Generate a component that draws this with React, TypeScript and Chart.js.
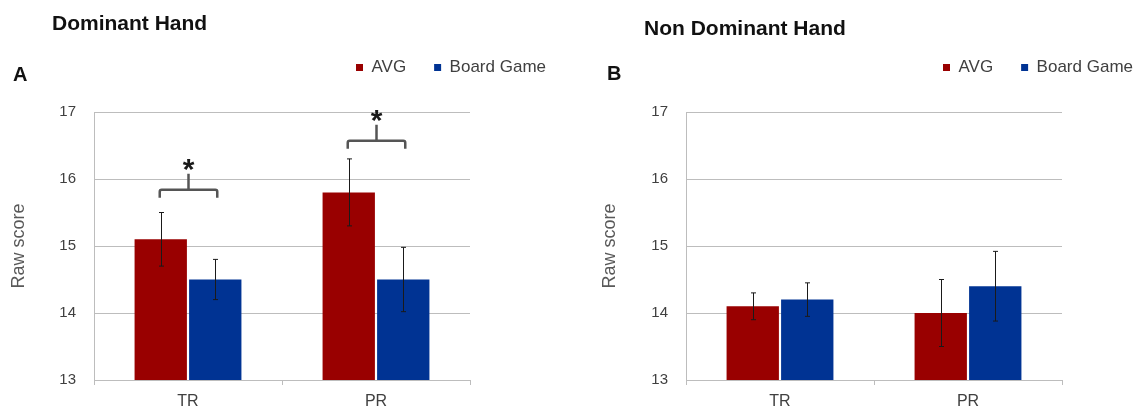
import React, { useEffect, useRef } from 'react';
import { Chart, registerables } from 'chart.js';

Chart.register(...registerables);

const FONT = '"Liberation Sans", Arial, Helvetica, sans-serif';

const categories = ['TR', 'PR'];
const seriesLabels = ['AVG', 'Board Game'];
const seriesColors = ['#990000', '#003393'];
const yTickValues = [13, 14, 15, 16, 17];

const dominantAvg = [15.1, 15.8];
const dominantAvgErr = [0.4, 0.5];
const dominantBoard = [14.5, 14.5];
const dominantBoardErr = [0.3, 0.48];
const dominantSigLevel: (number | null)[] = [15.84, 16.57];

const nonDominantAvg = [14.1, 14.0];
const nonDominantAvgErr = [0.2, 0.5];
const nonDominantBoard = [14.2, 14.4];
const nonDominantBoardErr = [0.25, 0.52];
const nonDominantSigLevel: (number | null)[] = [null, null];

type PanelProps = {
  avg: number[];
  avgErr: number[];
  board: number[];
  boardErr: number[];
  sig: (number | null)[];
  left: number;
  width: number;
  yWidth: number;
  rightPad: number;
};

function Panel({ avg, avgErr, board, boardErr, sig, left, width, yWidth, rightPad }: PanelProps) {
  const ref = useRef<HTMLCanvasElement | null>(null);

  useEffect(() => {
    const canvas = ref.current;
    if (!canvas) return;
    const errs = [avgErr, boardErr];

    const errorBarPlugin = {
      id: 'errorBars',
      afterDatasetsDraw(chart: any) {
        const ctx = chart.ctx;
        const ys = chart.scales.y;
        ctx.save();
        ctx.strokeStyle = '#1a1a1a';
        ctx.lineWidth = 1;
        chart.data.datasets.forEach((ds: any, i: number) => {
          const meta = chart.getDatasetMeta(i);
          meta.data.forEach((bar: any, j: number) => {
            const v = ds.data[j];
            const e = errs[i][j];
            const x = Math.round(bar.x) + 0.5;
            const yt = ys.getPixelForValue(v + e);
            const yb = ys.getPixelForValue(v - e);
            ctx.beginPath();
            ctx.moveTo(x, yt);
            ctx.lineTo(x, yb);
            ctx.moveTo(x - 2.5, yt);
            ctx.lineTo(x + 2.5, yt);
            ctx.moveTo(x - 2.5, yb);
            ctx.lineTo(x + 2.5, yb);
            ctx.stroke();
          });
        });
        ctx.restore();
      },
    };

    const sigPlugin = {
      id: 'significance',
      afterDatasetsDraw(chart: any) {
        const ctx = chart.ctx;
        const ys = chart.scales.y;
        const m0 = chart.getDatasetMeta(0);
        const m1 = chart.getDatasetMeta(1);
        sig.forEach((lvl, j) => {
          if (lvl == null) return;
          const x1 = m0.data[j].x - 1;
          const x2 = m1.data[j].x + 2;
          const yb = ys.getPixelForValue(lvl);
          const xm = (x1 + x2) / 2;
          ctx.save();
          ctx.strokeStyle = '#555555';
          ctx.lineWidth = 2.5;
          ctx.beginPath();
          ctx.moveTo(x1, yb + 8);
          ctx.lineTo(x1, yb + 2);
          ctx.quadraticCurveTo(x1, yb, x1 + 2, yb);
          ctx.lineTo(x2 - 2, yb);
          ctx.quadraticCurveTo(x2, yb, x2, yb + 2);
          ctx.lineTo(x2, yb + 8);
          ctx.moveTo(xm, yb);
          ctx.lineTo(xm, yb - 16);
          ctx.stroke();
          ctx.fillStyle = '#1a1a1a';
          ctx.font = `bold 30px ${FONT}`;
          ctx.textAlign = 'center';
          ctx.textBaseline = 'alphabetic';
          ctx.fillText('*', xm, yb - 28 + 0.58 * 30);
          ctx.restore();
        });
      },
    };

    const chart = new Chart(canvas, {
      type: 'bar',
      data: {
        labels: categories,
        datasets: [
          {
            label: seriesLabels[0],
            data: avg,
            backgroundColor: seriesColors[0],
            borderWidth: 0,
            categoryPercentage: 0.58,
            barPercentage: 0.96,
          },
          {
            label: seriesLabels[1],
            data: board,
            backgroundColor: seriesColors[1],
            borderWidth: 0,
            categoryPercentage: 0.58,
            barPercentage: 0.96,
          },
        ],
      },
      options: {
        responsive: false,
        animation: false,
        devicePixelRatio: 1,
        layout: { padding: { top: 31, left: 0, right: 0, bottom: 0 } },
        plugins: {
          legend: {
            position: 'top',
            align: 'end',
            labels: {
              boxWidth: 7,
              boxHeight: 7,
              padding: 28,
              color: '#404040',
              font: { family: FONT, size: 17 },
            },
          },
          tooltip: { enabled: false },
          title: { display: false },
        },
        scales: {
          x: {
            offset: true,
            grid: {
              display: true,
              drawOnChartArea: false,
              drawTicks: true,
              tickLength: 5,
              offset: true,
              color: '#bdbdbd',
            },
            border: { display: true, color: '#bdbdbd' },
            ticks: {
              color: '#404040',
              padding: 7,
              font: { family: FONT, size: 16 },
            },
            afterFit(s: any) {
              s.height = 29;
            },
          },
          padTop: {
            type: 'linear',
            axis: 'x',
            position: 'top',
            display: true,
            grid: { display: false, drawTicks: false },
            border: { display: false },
            ticks: { display: false },
            afterFit(s: any) {
              s.height = 26;
            },
          },
          y: {
            min: 13,
            max: 17,
            afterBuildTicks(s: any) {
              s.ticks = yTickValues.map((v) => ({ value: v }));
            },
            grid: { color: '#bdbdbd', drawTicks: false },
            border: { display: true, color: '#bdbdbd' },
            ticks: {
              color: '#404040',
              padding: 18,
              font: { family: FONT, size: 15 },
            },
            title: {
              display: true,
              text: 'Raw score',
              color: '#595959',
              padding: { top: 8, bottom: 0 },
              font: { family: FONT, size: 18 },
            },
            afterFit(s: any) {
              s.width = yWidth;
            },
          },
          pad: {
            type: 'linear',
            position: 'right',
            display: true,
            grid: { display: false, drawTicks: false },
            border: { display: false },
            ticks: { display: false },
            afterFit(s: any) {
              s.width = rightPad;
            },
          },
        },
      } as any,
      plugins: [errorBarPlugin, sigPlugin],
    });
    return () => chart.destroy();
  }, []);

  return (
    <canvas
      ref={ref}
      width={width}
      height={409}
      style={{ position: 'absolute', left, top: 0, width, height: 409, display: 'block' }}
    />
  );
}

const titleStyle: React.CSSProperties = {
  position: 'absolute',
  fontFamily: FONT,
  fontWeight: 'bold',
  fontSize: 21,
  lineHeight: '21px',
  color: '#111',
  whiteSpace: 'nowrap',
};

const letterStyle: React.CSSProperties = {
  position: 'absolute',
  fontFamily: FONT,
  fontWeight: 'bold',
  fontSize: 20,
  lineHeight: '20px',
  color: '#111',
};

export default function App() {
  return (
    <div
      style={{
        position: 'fixed',
        left: 0,
        top: 0,
        width: 1139,
        height: 409,
        overflow: 'hidden',
        background: '#ffffff',
      }}
    >
      <Panel
        avg={dominantAvg}
        avgErr={dominantAvgErr}
        board={dominantBoard}
        boardErr={dominantBoardErr}
        sig={dominantSigLevel}
        left={0}
        width={574}
        yWidth={94}
        rightPad={104}
      />
      <Panel
        avg={nonDominantAvg}
        avgErr={nonDominantAvgErr}
        board={nonDominantBoard}
        boardErr={nonDominantBoardErr}
        sig={nonDominantSigLevel}
        left={591}
        width={570}
        yWidth={95}
        rightPad={99}
      />
      <div style={{ ...titleStyle, left: 52, top: 12 }}>Dominant Hand</div>
      <div style={{ ...titleStyle, left: 644, top: 17 }}>Non Dominant Hand</div>
      <div style={{ ...letterStyle, left: 13, top: 64 }}>A</div>
      <div style={{ ...letterStyle, left: 607, top: 63 }}>B</div>
    </div>
  );
}
